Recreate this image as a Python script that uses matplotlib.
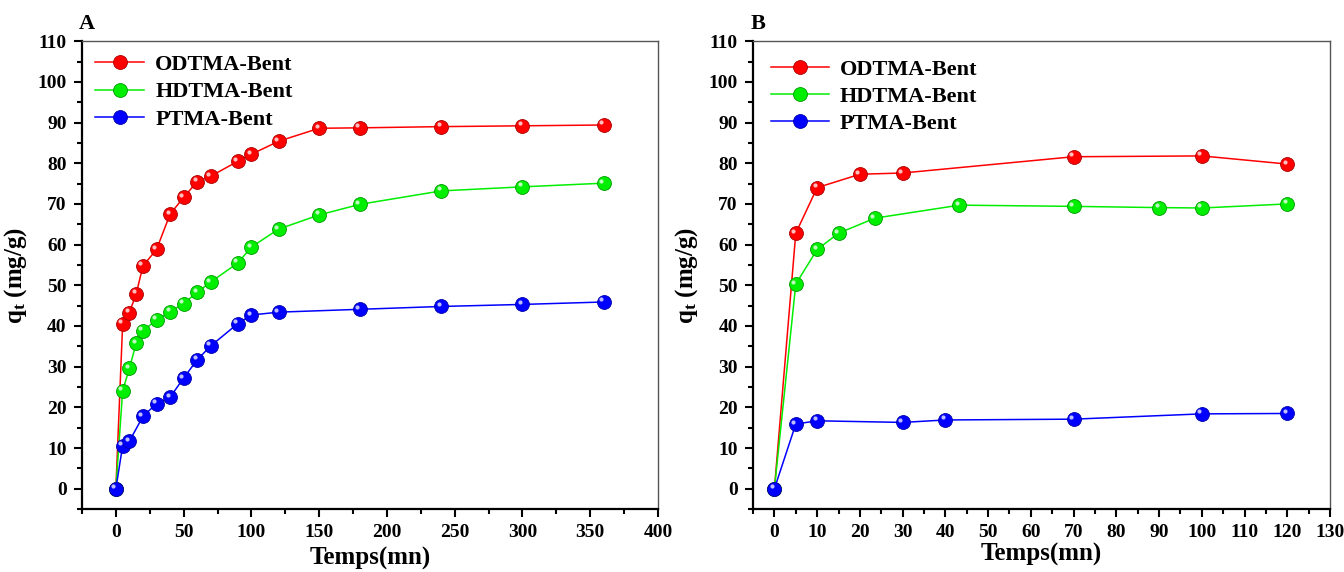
import matplotlib
matplotlib.use("Agg")
import matplotlib.pyplot as plt
from matplotlib.ticker import MultipleLocator
from matplotlib.transforms import offset_copy

plt.rcParams["font.family"] = ["Liberation Serif", "DejaVu Serif"]
plt.rcParams["font.weight"] = "bold"
plt.rcParams["mathtext.fontset"] = "custom"
plt.rcParams["mathtext.bf"] = "Liberation Serif:bold"
plt.rcParams["mathtext.rm"] = "Liberation Serif:bold"

# ── Panel A data ──────────────────────────────────────────────────────────────
t_a = [0, 5, 10, 15, 20, 30, 40, 50, 60, 70, 90, 100, 120, 150, 180, 240, 300, 360]
odtma_a = [0, 40.5, 43.3, 47.9, 54.8, 58.8, 67.5, 71.6, 75.5, 76.8, 80.5, 82.2,
           85.4, 88.6, 88.7, 89.0, 89.2, 89.4]
hdtma_a = [0, 24.1, 29.6, 35.8, 38.8, 41.5, 43.5, 45.5, 48.3, 50.8, 55.5, 59.4,
           63.8, 67.3, 69.9, 73.2, 74.2, 75.1]
t_a_ptma = [0, 5, 10, 20, 30, 40, 50, 60, 70, 90, 100, 120, 180, 240, 300, 360]
ptma_a = [0, 10.6, 11.7, 17.8, 20.9, 22.5, 27.2, 31.7, 35.1, 40.6, 42.7, 43.4,
          44.1, 44.8, 45.3, 45.9]

# ── Panel B data ──────────────────────────────────────────────────────────────
t_b_odtma = [0, 5, 10, 20, 30, 70, 100, 120]
odtma_b = [0, 62.8, 74.0, 77.3, 77.6, 81.6, 81.8, 79.8]
t_b_hdtma = [0, 5, 10, 15, 23.5, 43.3, 70, 90, 100, 120]
hdtma_b = [0, 50.3, 58.8, 62.8, 66.5, 69.7, 69.4, 69.1, 69.0, 70.0]
t_b_ptma = [0, 5, 10, 30, 40, 70, 100, 120]
ptma_b = [0, 15.9, 16.7, 16.3, 16.9, 17.1, 18.4, 18.5]

labels = ["ODTMA-Bent", "HDTMA-Bent", "PTMA-Bent"]
colors = ["#ff0000", "#00ee00", "#0000ff"]
edges = ["#aa0000", "#009900", "#0000aa"]

fig = plt.figure(figsize=(13.44, 5.72), dpi=100)
ax_a = fig.add_axes([0.061, 0.110, 0.4286, 0.818])
ax_b = fig.add_axes([0.5603, 0.110, 0.4293, 0.818])


def draw(ax, series):
    shine = offset_copy(ax.transData, fig=fig, x=-1.8, y=1.8, units="points")
    for (x, y), lab, c, ec in zip(series, labels, colors, edges):
        ax.plot(x, y, "-", color=c, lw=1.1, marker="o", ms=10,
                mfc=c, mec=ec, mew=0.6, label=lab)
        # small highlight for the shiny-ball look
        ax.plot(x, y, ls="none", marker="o", ms=3, mfc="white",
                mec="none", alpha=0.75, transform=shine)


def style(ax, xmax, xmaj, xmin_, xlo, panel, lbpad):
    ax.set_xlim(xlo, xmax)
    ax.set_ylim(-5, 110)
    ax.xaxis.set_major_locator(MultipleLocator(xmaj))
    ax.xaxis.set_minor_locator(MultipleLocator(xmin_))
    ax.yaxis.set_major_locator(MultipleLocator(10))
    ax.yaxis.set_minor_locator(MultipleLocator(5))
    ax.tick_params(which="both", direction="out", top=False, right=False,
                   width=1.5)
    ax.tick_params(which="major", length=6, labelsize=14, pad=5)
    ax.tick_params(which="minor", length=3.5)
    for lbl in ax.get_xticklabels() + ax.get_yticklabels():
        lbl.set_fontweight("bold")
    for s in ["left", "bottom"]:
        ax.spines[s].set_linewidth(1.6)
    for s in ["top", "right"]:
        ax.spines[s].set_linewidth(1.0)
        ax.spines[s].set_color("#555555")
    ax.set_xlabel("Temps(mn)", fontsize=18, fontweight="bold", labelpad=lbpad)
    ax.set_ylabel(r"$\mathbf{q_t}$ (mg/g)", fontsize=18, fontweight="bold",
                  labelpad=6)
    ax.text(-0.005, 1.015, panel, transform=ax.transAxes, fontsize=16,
            fontweight="bold", ha="left", va="bottom")


draw(ax_a, [(t_a, odtma_a), (t_a, hdtma_a), (t_a_ptma, ptma_a)])
style(ax_a, 400, 50, 25, -25, "A", 4)
ax_a.legend(loc="upper left", frameon=False, handlelength=2.2,
            borderaxespad=0.2, labelspacing=0.3, handletextpad=0.5,
            prop={"weight": "bold", "size": 16})

draw(ax_b, [(t_b_odtma, odtma_b), (t_b_hdtma, hdtma_b), (t_b_ptma, ptma_b)])
style(ax_b, 130, 10, 5, -5, "B", 1)
ax_b.legend(loc="upper left", frameon=False, handlelength=2.6,
            borderaxespad=0.4, labelspacing=0.3, handletextpad=0.5,
            prop={"weight": "bold", "size": 16})

fig.savefig("out.png", dpi=100)
